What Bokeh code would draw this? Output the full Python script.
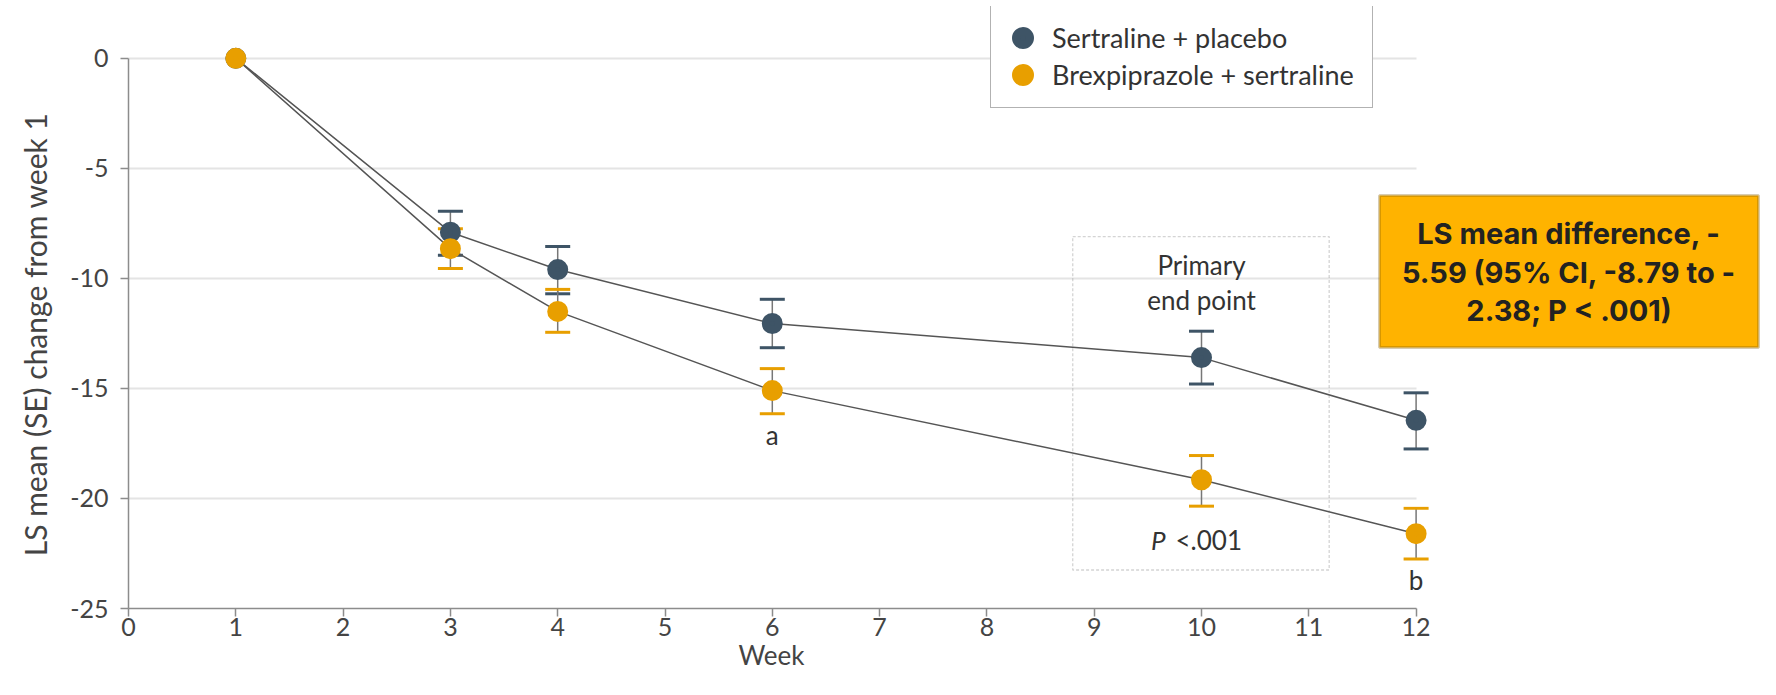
from bokeh.plotting import figure
from bokeh.models import (ColumnDataSource, Whisker, TeeHead, Legend, LegendItem, Label,
                          BoxAnnotation, FixedTicker, Range1d)
from bokeh.embed import file_html
from bokeh.resources import INLINE

# ---------------- data ----------------
weeks = [1, 3, 4, 6, 10, 12]
placebo_mean = [0, -7.9, -9.6, -12.05, -13.6, -16.45]
placebo_lower = [0, -8.95, -10.7, -13.15, -14.8, -17.75]
placebo_upper = [0, -6.95, -8.55, -10.95, -12.4, -15.2]
brex_mean = [0, -8.65, -11.5, -15.1, -19.15, -21.6]
brex_lower = [0, -9.55, -12.45, -16.15, -20.35, -22.75]
brex_upper = [0, -7.75, -10.5, -14.1, -18.05, -20.45]
series_names = ["Sertraline + placebo", "Brexpiprazole + sertraline"]
x_ticks = list(range(0, 13))
y_ticks = [0, -5, -10, -15, -20, -25]
note_weeks = [6, 12]
note_marks = ["a", "b"]
primary_week = 10
x_title = "Week"
y_title = "LS mean (SE) change from week 1"
box_lines = ["LS mean difference, -", "5.59 (95% CI, -8.79 to -", "2.38; P < .001)"]

# ---------------- style / layout ----------------
FONT = "Lato"
BLUE = "#3e5466"
ORANGE = "#e89f00"
TXT = "#333333"
NBSP = "\u00a0"

W, H = 1760, 679
LEFT, TOP = 128, 6
FRAME_H = 602
BOTTOM = H - TOP - FRAME_H
FRAME_W = W - LEFT
PX_X = 107.3
X_END = FRAME_W / PX_X
Y_END = 2.354
PX_Y = FRAME_H / (Y_END + 25)


def cx(px):  # canvas x -> data x
    return (px - LEFT) / PX_X


def cy(py):  # canvas y -> data y
    return Y_END - (py - TOP) / PX_Y


p = figure(width=W, height=H, output_backend="svg", toolbar_location=None,
           x_range=Range1d(0, X_END), y_range=Range1d(-25, Y_END),
           min_border_left=LEFT, min_border_right=0, min_border_top=TOP,
           min_border_bottom=BOTTOM, background_fill_color="white",
           border_fill_color="white")
p.outline_line_color = None
p.xgrid.visible = False

# grid (only across the 0-12 week span)
p.ygrid.ticker = FixedTicker(ticks=y_ticks)
p.ygrid.grid_line_color = "#e4e4e4"
p.ygrid.grid_line_width = 2
try:
    p.ygrid.cross_bounds = (0, 12)
except Exception:
    p.ygrid.visible = False
    p.segment(x0=[0] * len(y_ticks), x1=[12] * len(y_ticks), y0=y_ticks, y1=y_ticks,
              line_color="#e4e4e4", line_width=2, level="underlay")

# axes
for ax in (p.xaxis[0], p.yaxis[0]):
    ax.axis_line_color = "#8c8c8c"
    ax.axis_line_width = 1.5
    ax.major_tick_line_color = "#8c8c8c"
    ax.major_tick_line_width = 1.5
    ax.major_tick_out = 8
    ax.major_tick_in = 0
    ax.minor_tick_line_color = None
    ax.major_label_text_font = FONT
    ax.major_label_text_font_size = "25px"
    ax.major_label_text_color = "#444444"
    ax.axis_label_text_font = FONT
    ax.axis_label_text_font_style = "normal"
    ax.axis_label_text_color = "#444444"

p.xaxis.ticker = FixedTicker(ticks=x_ticks)
p.xaxis.bounds = (0, 12)
p.xaxis.major_label_standoff = 1
# trailing no-break spaces re-centre the title under the 0-12 span of the axis
p.xaxis.axis_label = x_title + NBSP * 52
p.xaxis.axis_label_text_font_size = "26px"
p.xaxis.axis_label_standoff = 0

p.yaxis.ticker = FixedTicker(ticks=y_ticks)
p.yaxis.bounds = (-25, 0)
p.yaxis.major_label_standoff = 12
p.yaxis.major_label_overrides = {t: str(t) for t in y_ticks}
# trailing no-break spaces re-centre the title on the 0..-25 span of the axis
p.yaxis.axis_label = y_title + NBSP * 7
p.yaxis.axis_label_text_font_size = "30px"
p.yaxis.axis_label_standoff = 14

# error bars (behind markers)
for lo, up, col in ((placebo_lower, placebo_upper, BLUE), (brex_lower, brex_upper, ORANGE)):
    src = ColumnDataSource(dict(week=weeks[1:], lower=lo[1:], upper=up[1:]))
    w = Whisker(base="week", lower="lower", upper="upper", source=src, dimension="height",
                line_color="#777777", line_width=1.5, level="underlay",
                upper_head=TeeHead(size=25, line_color=col, line_width=3),
                lower_head=TeeHead(size=25, line_color=col, line_width=3))
    p.add_layout(w)

# connecting lines
p.line(weeks, placebo_mean, line_color="#555555", line_width=1.5)
p.line(weeks, brex_mean, line_color="#555555", line_width=1.5)

# markers (thick outline so the legend dots come out the same size)
s1 = p.scatter(weeks, placebo_mean, size=13, marker="circle", fill_color=BLUE,
               line_color=BLUE, line_width=8)
s2 = p.scatter(weeks, brex_mean, size=13, marker="circle", fill_color=ORANGE,
               line_color=ORANGE, line_width=8)

# footnote marks under orange error bars
for wk, mk in zip(note_weeks, note_marks):
    lo = brex_lower[weeks.index(wk)]
    p.add_layout(Label(x=wk, y=lo, y_offset=-21, text=mk, text_align="center",
                       text_baseline="middle", text_font=FONT, text_font_size="26px",
                       text_color=TXT))

# primary end point window
p.add_layout(BoxAnnotation(left=primary_week - 1.2, right=primary_week + 1.19,
                           top=-8.1, bottom=-23.25, fill_alpha=0, line_color="#6f6f6f",
                           line_width=1.3, line_dash="3 2"))
p.add_layout(Label(x=primary_week, y=-9.4, text="Primary", text_align="center",
                   text_baseline="middle", text_font=FONT, text_font_size="26px",
                   text_color=TXT))
p.add_layout(Label(x=primary_week, y=-11.0, text="end point", text_align="center",
                   text_baseline="middle", text_font=FONT, text_font_size="26px",
                   text_color=TXT))
p.add_layout(Label(x=primary_week, y=-21.9, x_offset=-36, text="P", text_align="right",
                   text_baseline="middle", text_font=FONT, text_font_size="26px",
                   text_font_style="italic", text_color=TXT))
p.add_layout(Label(x=primary_week, y=-21.9, x_offset=-26, text="<.001", text_align="left",
                   text_baseline="middle", text_font=FONT, text_font_size="26px",
                   text_color=TXT))

# highlighted result box
bx0, bx1, by0, by1 = cx(1379), cx(1758), cy(195), cy(347)
p.add_layout(BoxAnnotation(left=bx0, right=bx1, top=by0, bottom=by1,
                           fill_color="#ffb300", fill_alpha=1,
                           line_color="#7a5600", line_width=3))
for i, t in enumerate(box_lines):
    p.add_layout(Label(x=(bx0 + bx1) / 2, y=cy(233 + 38.5 * i), text=t, text_align="center",
                       text_baseline="middle", text_font="Inter", text_font_size="29px",
                       text_font_style="bold", text_color="#222222"))

# legend
legend = Legend(items=[LegendItem(label=series_names[0], renderers=[s1]),
                       LegendItem(label=series_names[1], renderers=[s2])],
                location=(862, 500), orientation="vertical", padding=14, spacing=0,
                margin=0, glyph_width=35, glyph_height=37, label_standoff=12,
                label_width=306, label_text_font=FONT, label_text_font_size="27px",
                label_text_color=TXT, border_line_color="#666666", border_line_width=1.5,
                background_fill_color="white", background_fill_alpha=1)
p.add_layout(legend)

open("out.html", "w").write(file_html(p, INLINE))
